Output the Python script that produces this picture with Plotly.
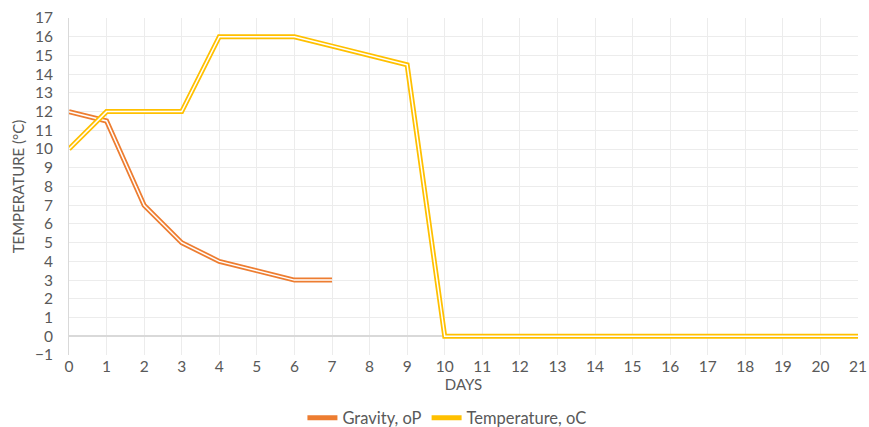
import plotly.graph_objects as go

days_gravity = [0, 1, 2, 3, 4, 5, 6, 7]
gravity = [12, 11.5, 7, 5, 4, 3.5, 3, 3]
days_temp = list(range(0, 22))
temperature = [10, 12, 12, 12, 16, 16, 16, 15.5, 15, 14.5,
               0, 0, 0, 0, 0, 0, 0, 0, 0, 0, 0, 0]

orange = "#ED7D31"
gold = "#FFC000"
font = "Lato"

fig = go.Figure()
for xs, ys, name, col in [(days_gravity, gravity, "Gravity, oP", orange),
                          (days_temp, temperature, "Temperature, oC", gold)]:
    fig.add_trace(go.Scatter(x=xs, y=ys, mode="lines", name=name,
                             line=dict(color=col, width=5)))
    fig.add_trace(go.Scatter(x=xs, y=ys, mode="lines", showlegend=False,
                             hoverinfo="skip",
                             line=dict(color="white", width=1.5)))

fig.update_layout(
    width=869, height=427,
    margin=dict(l=69, r=11, t=18, b=72),
    paper_bgcolor="white", plot_bgcolor="white",
    font=dict(family=font, size=15, color="#595959"),
    legend=dict(orientation="h", x=0.479, xanchor="center",
                yref="container", y=0.021, yanchor="middle",
                font=dict(size=16.5, color="#595959")),
    xaxis=dict(range=[0, 21], dtick=1, tick0=0, showgrid=True,
               gridcolor="#ececec", gridwidth=1, zeroline=False,
               showline=False, ticks="", automargin=False,
               tickfont=dict(size=15.5),
               title=dict(text="DAYS", standoff=5, font=dict(size=15))),
    yaxis=dict(range=[-1, 17], dtick=1, tick0=-1, showgrid=True,
               gridcolor="#ececec", gridwidth=1, zeroline=True,
               zerolinecolor="#d9d9d9", zerolinewidth=1.5,
               showline=True, linecolor="#d9d9d9", linewidth=1, ticks="",
               automargin=False, ticklabelstandoff=12,
               tickfont=dict(size=15.5),
               title=dict(text="TEMPERATURE (°C)", standoff=6,
                          font=dict(size=15))),
)

fig.write_html(
    "out.html",
    config={"displayModeBar": False},
    post_script="document.body.style.margin='0';"
                "document.body.style.overflow='hidden';",
)
